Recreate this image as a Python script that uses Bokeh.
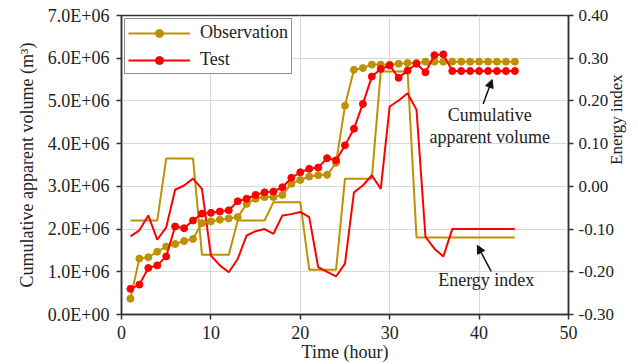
import math
from bokeh.plotting import figure
from bokeh.models import (LinearAxis, Range1d, CustomJSTickFormatter, FixedTicker,
                          Legend, LegendItem, Label, Arrow, NormalHead)
from bokeh.embed import file_html
from bokeh.resources import INLINE

hours = list(range(1, 45))
obs_volume = [0.37, 1.31, 1.34, 1.47, 1.59, 1.65, 1.72, 1.77, 2.14, 2.18, 2.22, 2.25, 2.28, 2.59,
              2.71, 2.75, 2.75, 2.80, 3.06, 3.15, 3.23, 3.26, 3.27, 3.55, 4.89, 5.73, 5.77, 5.85,
              5.85, 5.85, 5.87, 5.89, 5.89, 5.92, 5.92, 5.92, 5.92, 5.92, 5.92, 5.92, 5.92, 5.92,
              5.92, 5.92]
test_volume = [0.60, 0.70, 1.09, 1.15, 1.36, 2.06, 2.02, 2.20, 2.36, 2.38, 2.41, 2.44, 2.65, 2.71,
               2.80, 2.86, 2.88, 2.98, 3.20, 3.33, 3.41, 3.44, 3.66, 3.61, 3.96, 4.35, 4.93, 5.57,
               5.75, 5.83, 5.54, 5.71, 5.87, 5.67, 6.07, 6.09, 5.70, 5.70, 5.70, 5.70, 5.70, 5.70,
               5.70, 5.70]
obs_energy = [-0.08, -0.08, -0.08, -0.08, 0.065, 0.065, 0.065, 0.065, -0.16, -0.16, -0.16, -0.16,
              -0.08, -0.08, -0.08, -0.08, -0.037, -0.037, -0.037, -0.037, -0.195, -0.195, -0.195,
              -0.195, 0.018, 0.018, 0.018, 0.018, 0.269, 0.269, 0.269, 0.269, -0.12, -0.12, -0.12,
              -0.12, -0.12, -0.12, -0.12, -0.12, -0.12, -0.12, -0.12, -0.12]
test_energy = [-0.117, -0.103, -0.068, -0.125, -0.096, -0.008, 0.002, 0.018, -0.006, -0.162, -0.185,
               -0.201, -0.17, -0.115, -0.105, -0.10, -0.111, -0.068, -0.065, -0.06, -0.072, -0.189,
               -0.20, -0.211, -0.181, -0.014, 0.002, 0.026, -0.006, 0.187, 0.201, 0.218, 0.179,
               -0.118, -0.146, -0.164, -0.10, -0.10, -0.10, -0.10, -0.10, -0.10, -0.10, -0.10]

x_ticks = [0, 10, 20, 30, 40, 50]
vol_ticks = [0, 1e6, 2e6, 3e6, 4e6, 5e6, 6e6, 7e6]
energy_ticks = [-0.3, -0.2, -0.1, 0.0, 0.1, 0.2, 0.3, 0.4]

GOLD = "#BF9000"
RED = "#FF0000"
FONT = "Liberation Serif"
TXT = "#222222"

obs_v = [v * 1e6 for v in obs_volume]
test_v = [v * 1e6 for v in test_volume]

p = figure(width=638, height=364, output_backend="svg", toolbar_location=None,
           x_range=Range1d(0, 50), y_range=Range1d(0, 7e6),
           min_border_left=121, min_border_right=70, min_border_top=15, min_border_bottom=50)
p.extra_y_ranges = {"energy": Range1d(-0.3, 0.4)}

# energy index lines
p.line(hours, obs_energy, color=GOLD, line_width=2, y_range_name="energy")
p.line(hours, test_energy, color=RED, line_width=2, y_range_name="energy")

# cumulative volume lines with markers
l1 = p.line(hours, obs_v, color=GOLD, line_width=2)
s1 = p.scatter(hours, obs_v, size=7, color=GOLD)
l2 = p.line(hours, test_v, color=RED, line_width=2)
s2 = p.scatter(hours, test_v, size=7, color=RED)

# axes
p.xaxis.ticker = FixedTicker(ticks=x_ticks)
p.yaxis.ticker = FixedTicker(ticks=vol_ticks)
p.yaxis.formatter = CustomJSTickFormatter(code="""
const s = tick.toExponential(1).toUpperCase();
const parts = s.split("E");
const e = parts[1];
return parts[0] + "E" + e[0] + e.slice(1).padStart(2, "0");
""")
p.xaxis.axis_label = "Time (hour)"
p.yaxis.axis_label = "Cumulative apparent volume (m³)"

ax_r = LinearAxis(y_range_name="energy", axis_label="Energy index",
                  ticker=FixedTicker(ticks=energy_ticks),
                  formatter=CustomJSTickFormatter(code="""
return Math.abs(tick) < 1e-9 ? "0.00" : tick.toFixed(2);
"""))
p.add_layout(ax_r, "right")

for ax in [p.xaxis[0], p.yaxis[0], ax_r]:
    ax.major_label_text_font = FONT
    ax.major_label_text_font_size = "18px"
    ax.major_label_text_color = TXT
    ax.axis_label_text_font = FONT
    ax.axis_label_text_font_size = "18px"
    ax.axis_label_text_font_style = "normal"
    ax.axis_label_text_color = TXT
    ax.axis_line_color = "#333333"
    ax.axis_line_width = 1.5
    ax.major_tick_line_color = "#333333"
    ax.major_tick_line_width = 1.5
    ax.major_tick_out = 5
    ax.major_tick_in = 0
    ax.minor_tick_out = 0
    ax.minor_tick_in = 0
    ax.major_label_standoff = 7

p.xaxis.major_label_standoff = 6
p.xaxis.axis_label_standoff = 0
p.yaxis.axis_label_standoff = 8
ax_r.major_label_text_font_size = "17px"
ax_r.axis_label_text_font_size = "17px"
ax_r.major_label_standoff = 5
ax_r.axis_label_standoff = 0
ax_r.axis_label_orientation = math.pi / 2

p.xgrid.grid_line_color = "#d9d9d9"
p.ygrid.grid_line_color = "#d9d9d9"
p.xgrid.grid_line_width = 1.2
p.ygrid.grid_line_width = 1.2
p.outline_line_color = "#333333"
p.outline_line_width = 1.5
p.background_fill_color = "white"
p.border_fill_color = "white"

legend = Legend(items=[LegendItem(label="Observation", renderers=[l1, s1]),
                       LegendItem(label="Test", renderers=[l2, s2])],
                location="top_left", margin=3, padding=3, spacing=6,
                glyph_width=62, glyph_height=20, label_height=20, label_standoff=10,
                label_text_font=FONT, label_text_font_size="18px", label_text_color=TXT,
                border_line_color="#222222", border_line_width=1.5,
                background_fill_alpha=1.0)
p.add_layout(legend)

# annotations
lab_kw = dict(text_font=FONT, text_font_size="18px", text_color=TXT,
              text_align="center", text_baseline="middle")
p.add_layout(Label(x=41.2, y=4.66e6, text="Cumulative", **lab_kw))
p.add_layout(Label(x=41.2, y=4.15e6, text="apparent volume", **lab_kw))
p.add_layout(Label(x=40.8, y=-0.22, text="Energy index", y_range_name="energy", **lab_kw))

p.add_layout(Arrow(x_start=40.45, y_start=4.93e6, x_end=41.46, y_end=5.50e6,
                   line_color="#111111", line_width=1.5,
                   end=NormalHead(size=8, fill_color="#111111", line_color="#111111")))
p.add_layout(Arrow(x_start=41.35, y_start=-0.199, x_end=39.8, y_end=-0.138,
                   y_range_name="energy", line_color="#111111", line_width=1.5,
                   end=NormalHead(size=8, fill_color="#111111", line_color="#111111")))

open("out.html", "w").write(file_html(p, INLINE))
